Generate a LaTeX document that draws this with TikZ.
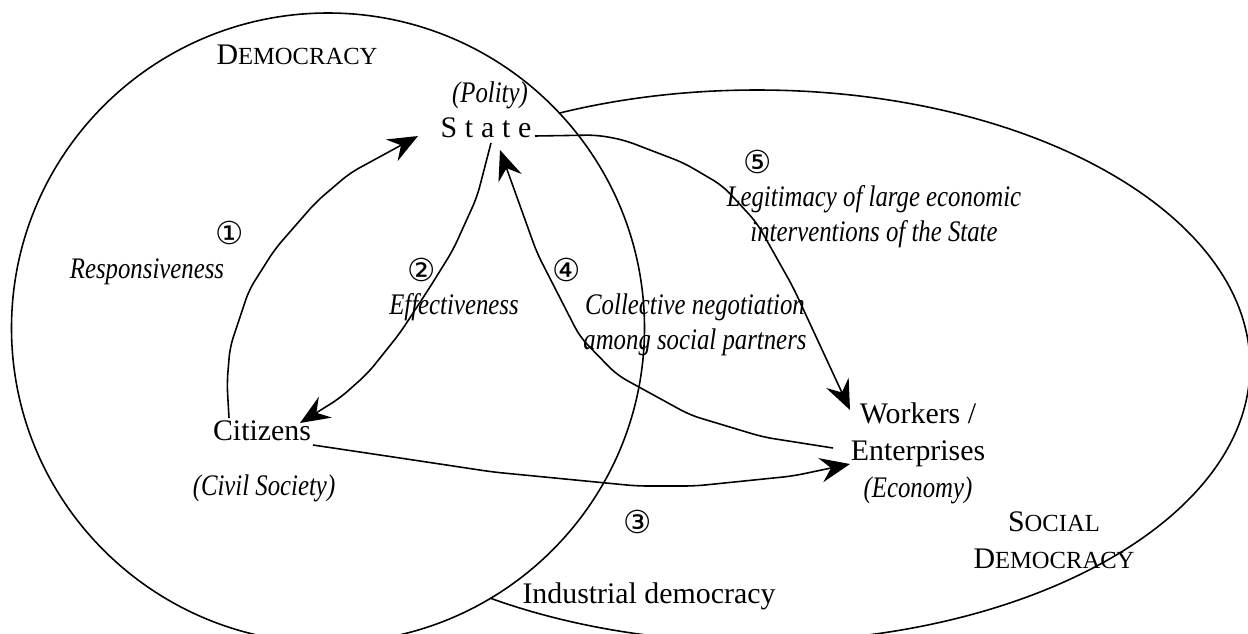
\documentclass[tikz,border=0pt]{standalone}
\usepackage{fontspec}
\setmainfont{Liberation Serif}
\newfontfamily\narrowfont{Liberation Serif}[FakeStretch=0.83]
\newfontfamily\circfont{DejaVu Sans}
\usetikzlibrary{arrows.meta}
\usetikzlibrary{calc}
\newcommand{\fakesc}[2]{#1{\fontsize{14}{16}\selectfont #2}}

\begin{document}
\begin{tikzpicture}[x=0.02cm,y=-0.02cm,line width=0.9pt,
    font=\fontsize{17}{21}\selectfont,
    lab/.style={inner sep=0pt,align=center},
    itlab/.style={inner sep=0pt,align=center,font=\narrowfont\itshape\fontsize{17}{20}\selectfont},
    num/.style={inner sep=0pt,font=\circfont\fontsize{18}{20}\selectfont},
    link/.style={rounded corners=6pt,-{Stealth[length=17pt,width=14pt,inset=6pt]}}]
    \useasboundingbox (0,0) rectangle (1248,633);
    \clip (0,0) rectangle (1248,633);

    % AREAS
    \draw (757,366) ellipse (493 and 276);
    \draw[fill=white] (328,328) ellipse (316.5 and 315);

    % LABELS
    \node[lab] (demo) at (297,55) {\fakesc{D}{EMOCRACY}};
    \node[lab] (socdemo) at (1054,540) {\fakesc{S}{OCIAL}\\\fakesc{D}{EMOCRACY}};
    \node[itlab] (polity) at (490,95) {(Polity)};
    \node[lab] (state) at (486,128) {\addfontfeature{LetterSpace=26}State};
    \node[lab] (cit) at (262,431) {Citizens};
    \node[itlab] (civil) at (264,488) {(Civil Society)};
    \node[lab] (work) at (918,453) {Workers /\\Enterprises\\\narrowfont\itshape (Economy)};
    \node[lab] (ind) at (649,596) {Industrial democracy};

    \node[num] (n1) at (230,233) {①};
    \node[itlab] (resp) at (147,272) {Responsiveness};
    \node[num] (n2) at (422,270) {②};
    \node[itlab] (eff) at (454,307) {Effectiveness};
    \node[num] (n3) at (638,522) {③};
    \node[num] (n4) at (567,270) {④};
    \node[itlab] (coll) at (695,325) {Collective negotiation\\among social partners};
    \node[num] (n5) at (758,162) {⑤};
    \node[itlab] (legit) at (874,217) {Legitimacy of large economic\\interventions of the State};

    % ARROWS
    \draw[link] ([shift={(-33,-13)}]cit.center) -- (227,383) -- (230,347) -- (249,290)
        -- (275,249) -- (316,202) -- (350,173) -- ([shift={(-68,8)}]state.center);
    \draw[link] ([shift={(5,15)}]state.center) -- (477,197) -- (453,250) -- (430,287)
        -- (400,333) -- (368,373) -- (340,398) -- ([shift={(38,-8)}]cit.center);
    \draw[link] ([shift={(51,14)}]cit.center) -- (400,458) -- (493,472) -- (637,486)
        -- (695,486) -- (793,476) -- ([shift={(-68,11)}]work.center);
    \draw[link] ([shift={(-85,-5)}]work.center) -- (763,437) -- (690,415) -- (617,375)
        -- (580,337) -- (537,253) -- ([shift={(14,22)}]state.center);
    \draw[link] ([shift={(49,8)}]state.center) -- (597,135) -- (624,140) -- (684,163)
        -- (723,186) -- (757,223) -- (793,287) -- ([shift={(-68,-43)}]work.center);
\end{tikzpicture}
\end{document}
